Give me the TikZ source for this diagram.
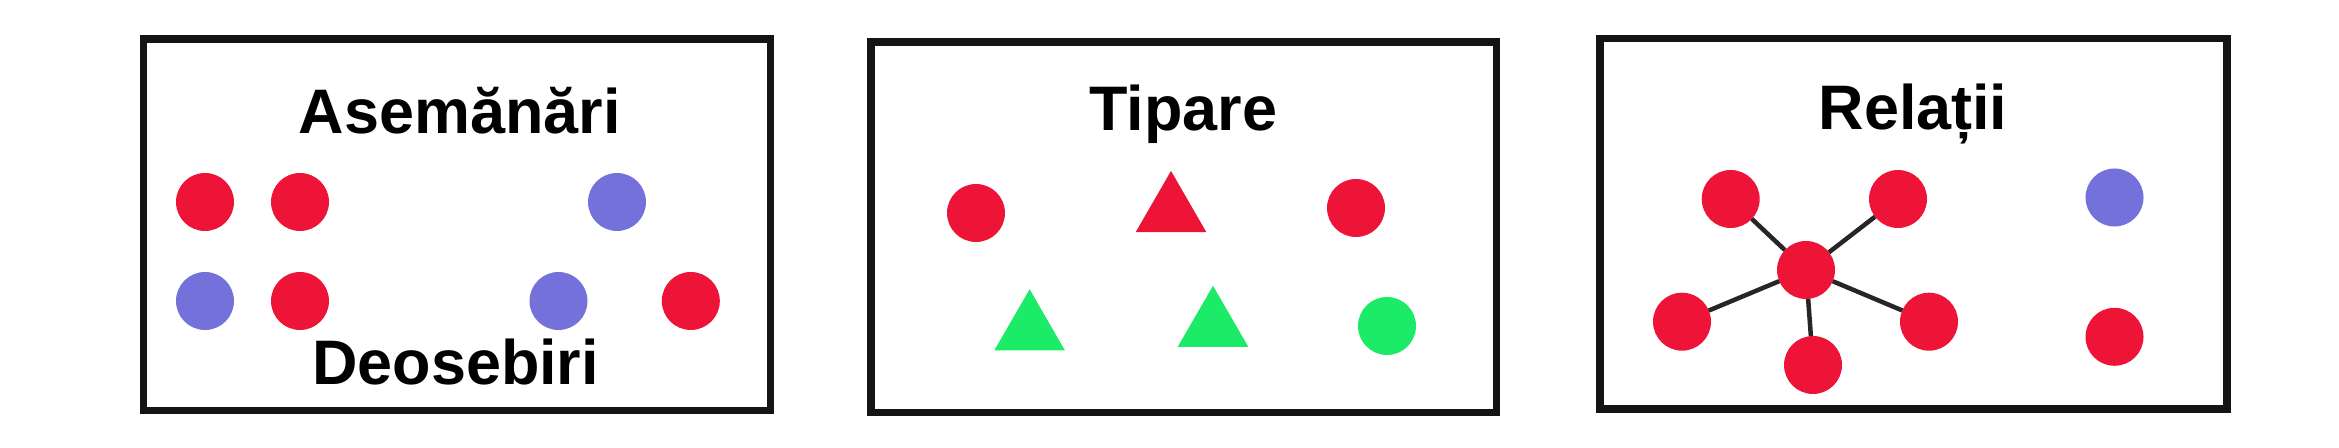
\documentclass[tikz,border=0pt]{standalone}
\usepackage{fontspec}
\setmainfont{Liberation Sans}
\usepackage{tikz}
\usetikzlibrary{shapes.geometric}
\definecolor{ColorRed}{RGB}{237,20,55}
\definecolor{ColorBlue}{RGB}{117,113,219}
\definecolor{ColorGreen}{RGB}{28,235,104}
\definecolor{ColorFrame}{RGB}{20,20,20}

\begin{document}
\begin{tikzpicture}[x=0.1mm,y=-0.1mm,
        frame/.style={draw=ColorFrame, line width=0.75mm},
        dot/.style={circle, minimum size=5.8mm, inner sep=0pt, outer sep=0pt},
        tri/.style={regular polygon, regular polygon sides=3, minimum size=8.15mm, inner sep=0pt, outer sep=0pt},
        title/.style={anchor=base, inner sep=0pt, font=\fontsize{17.9}{20}\selectfont\bfseries},
        link/.style={draw=black!85, line width=0.45mm}]
        \useasboundingbox (0,0) rectangle (2339,448);
        %Khung
        \draw[frame] (143.5,39) rectangle (770.5,410.5);
        \draw[frame] (871,42) rectangle (1496.5,412.5);
        \draw[frame] (1600,38.5) rectangle (2227,409);
        %Asemanari
        \node[title] (asem) at (459.7,134) {Asemănări};
        \node[title] (deos) at (455.6,384.4) {Deosebiri};
        \node[dot, fill=ColorRed] (a1) at (205,202) {};
        \node[dot, fill=ColorRed] (a2) at (300,202) {};
        \node[dot, fill=ColorBlue] (a3) at (617,202) {};
        \node[dot, fill=ColorBlue] (a4) at (205,301) {};
        \node[dot, fill=ColorRed] (a5) at (300,301) {};
        \node[dot, fill=ColorBlue] (a6) at (558.5,301) {};
        \node[dot, fill=ColorRed] (a7) at (690.8,301) {};
        %Tipare
        \node[title] (tip) at (1183.4,131) {Tipare};
        \node[dot, fill=ColorRed] (t1) at (976,213) {};
        \node[tri, fill=ColorRed] (t2) at (1171,211.7) {};
        \node[dot, fill=ColorRed] (t3) at (1356,208) {};
        \node[tri, fill=ColorGreen] (t4) at (1029.6,330) {};
        \node[tri, fill=ColorGreen] (t5) at (1213,326.5) {};
        \node[dot, fill=ColorGreen] (t6) at (1387,326) {};
        %Relatii
        \node[title] (rel) at (1913,130) {Relații};
        \node[dot, fill=ColorRed] (hub) at (1806,270) {};
        \node[dot, fill=ColorRed] (r1) at (1730.7,199) {};
        \node[dot, fill=ColorRed] (r2) at (1898,199) {};
        \node[dot, fill=ColorRed] (r3) at (1682,321.7) {};
        \node[dot, fill=ColorRed] (r4) at (1929,321.7) {};
        \node[dot, fill=ColorRed] (r5) at (1813,365) {};
        \node[dot, fill=ColorBlue] (r6) at (2114.5,197.5) {};
        \node[dot, fill=ColorRed] (r7) at (2114.5,336.8) {};
        \foreach \n in {r1,r2,r3,r4,r5}
            \draw[link] (hub) -- (\n);
    \end{tikzpicture}
\end{document}
